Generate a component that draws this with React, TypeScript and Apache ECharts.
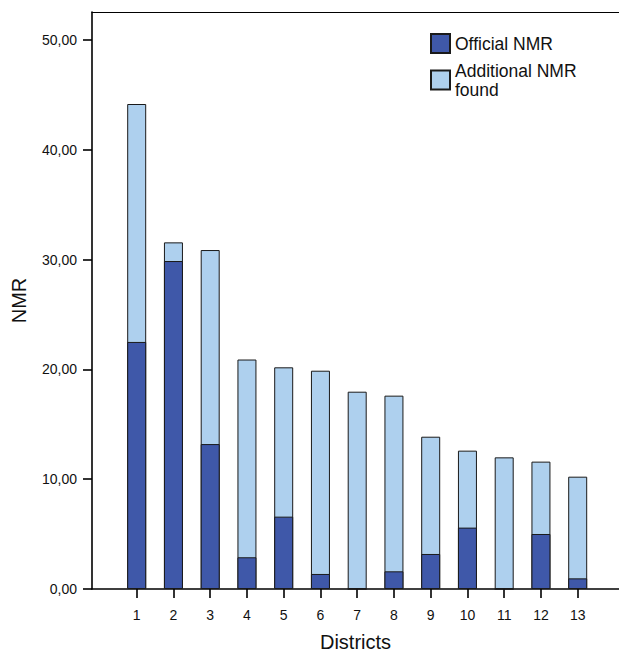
import React, { useEffect, useRef } from "react";
import * as echarts from "echarts";

const districts = [1, 2, 3, 4, 5, 6, 7, 8, 9, 10, 11, 12, 13];
const officialNMR = [22.5, 29.87, 13.2, 2.89, 6.59, 1.37, 0, 1.61, 3.19, 5.59, 0, 5.01, 0.97];
const additionalNMR = [21.67, 1.7, 17.67, 18.01, 13.6, 18.51, 17.97, 16.0, 10.68, 7.01, 11.99, 6.59, 9.26];
const yTicks = [0, 10, 20, 30, 40, 50];
const seriesNames = ["Official NMR", "Additional NMR\nfound"];

const FONT = "'Liberation Sans', Arial, Helvetica, sans-serif";
const DARK = "#3F58A9";
const LIGHT = "#AED0EE";
const EDGE = "#1a1a1a";

export default function App() {
  const ref = useRef<HTMLDivElement>(null);

  useEffect(() => {
    if (!ref.current) return;
    const chart = echarts.init(ref.current, null, { renderer: "svg" });
    const xMin = -0.216;
    const xMax = 14.124;
    // stacked tops: official + additional
    const totals = districts.map((_, i) => +(officialNMR[i] + additionalNMR[i]).toFixed(2));
    const option = {
      animation: false,
      backgroundColor: "#ffffff",
      textStyle: { fontFamily: FONT },
      grid: {
        left: 92,
        right: 0,
        top: 12,
        bottom: 65,
        containLabel: false,
        outerBoundsMode: "none",
      },
      legend: {
        orient: "vertical",
        left: 430,
        top: 33,
        padding: 0,
        itemWidth: 19,
        itemHeight: 19,
        itemGap: 7,
        itemTextGap: 6,
        icon: "rect",
        data: seriesNames,
        textStyle: { fontFamily: FONT, fontSize: 17.5, lineHeight: 19, color: "#111" },
      },
      xAxis: [
        {
          type: "value",
          min: xMin,
          max: xMax,
          name: "Districts",
          nameLocation: "middle",
          nameGap: 43,
          nameTextStyle: { fontFamily: FONT, fontSize: 20, color: "#111" },
          axisLine: { show: true, onZero: false, lineStyle: { color: "#000", width: 1.6 } },
          axisTick: {
            show: true,
            customValues: districts,
            length: 9,
            lineStyle: { color: "#000", width: 1.6 },
          },
          axisLabel: {
            show: true,
            customValues: districts,
            margin: 19,
            fontFamily: FONT,
            fontSize: 14,
            color: "#111",
          },
          splitLine: { show: false },
        },
        {
          type: "value",
          position: "top",
          min: xMin,
          max: xMax,
          axisLine: { show: true, onZero: false, lineStyle: { color: "#000", width: 1.2 } },
          axisTick: { show: false },
          axisLabel: { show: false },
          splitLine: { show: false },
        },
      ],
      yAxis: {
        type: "value",
        min: 0,
        max: 52.55,
        name: "NMR",
        nameLocation: "middle",
        nameGap: 63,
        nameTextStyle: { fontFamily: FONT, fontSize: 20, color: "#111" },
        axisLine: { show: true, onZero: false, lineStyle: { color: "#000", width: 1.6 } },
        axisTick: {
          show: true,
          customValues: yTicks,
          length: 9,
          lineStyle: { color: "#000", width: 1.6 },
        },
        axisLabel: {
          customValues: yTicks,
          margin: 15,
          fontFamily: FONT,
          fontSize: 14,
          color: "#111",
          formatter: (v: number) => v.toFixed(2).replace(".", ","),
        },
        splitLine: { show: false },
      },
      series: [
        {
          name: seriesNames[1],
          type: "bar",
          xAxisIndex: 0,
          barWidth: 19,
          barGap: "-100%",
          z: 2,
          itemStyle: { color: LIGHT, borderColor: EDGE, borderWidth: 1 },
          data: districts.map((d, i) => [d, totals[i]]),
        },
        {
          name: seriesNames[0],
          type: "bar",
          xAxisIndex: 0,
          barWidth: 19,
          barGap: "-100%",
          z: 3,
          itemStyle: { color: DARK, borderColor: EDGE, borderWidth: 1 },
          data: districts.map((d, i) => [d, officialNMR[i]]),
        },
      ],
    };
    chart.setOption(option as any);
    return () => chart.dispose();
  }, []);

  return (
    <div
      ref={ref}
      style={{ position: "absolute", left: 0, top: 0, width: 619, height: 654 }}
    />
  );
}
